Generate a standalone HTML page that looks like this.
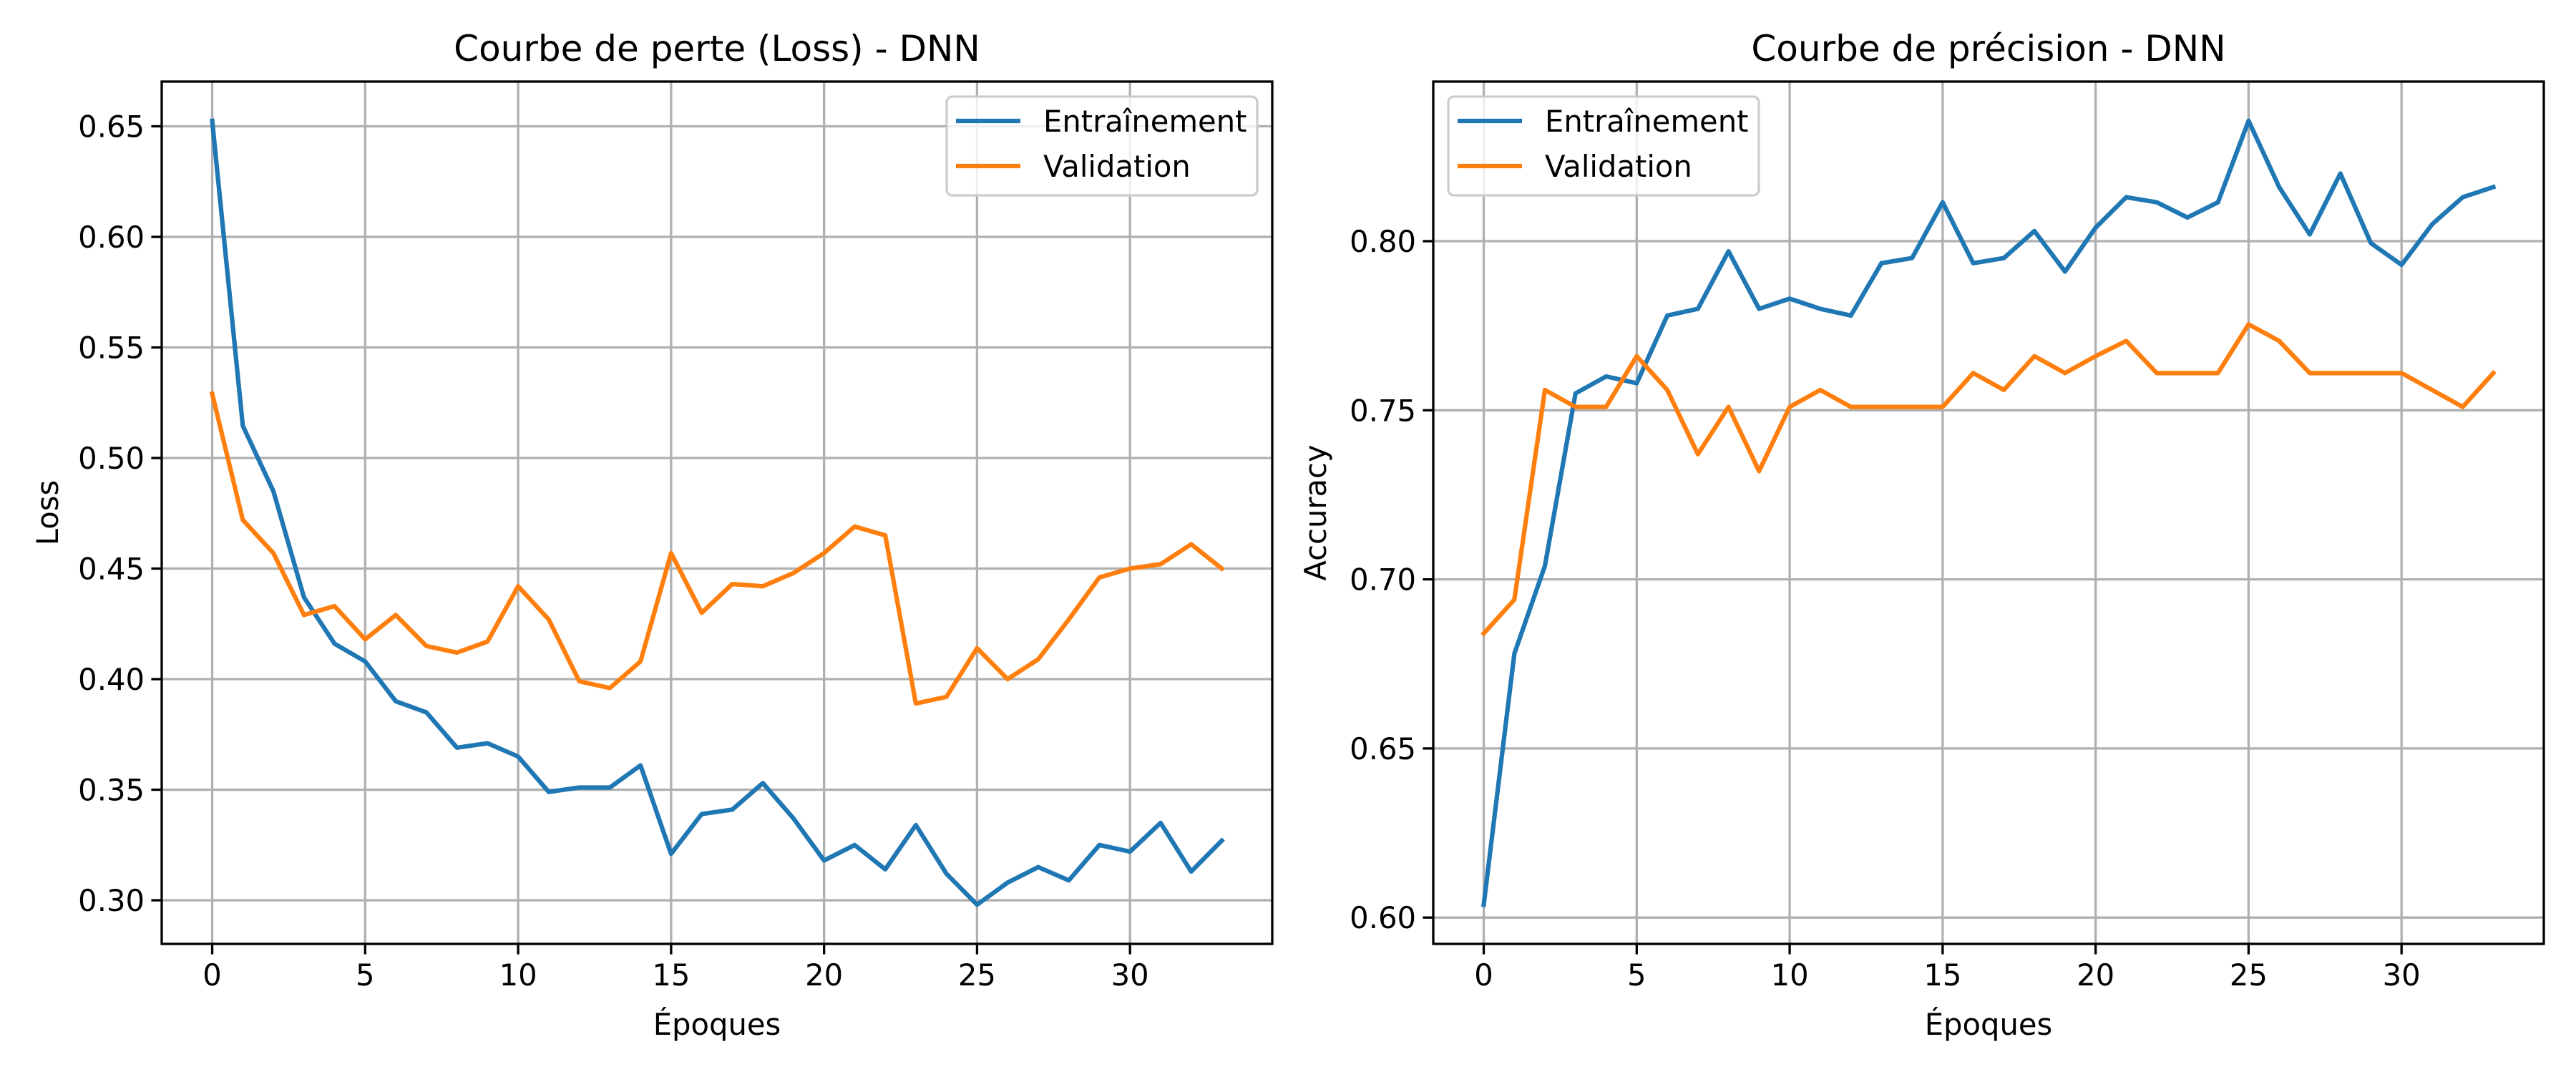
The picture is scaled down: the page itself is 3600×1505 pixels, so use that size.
<!DOCTYPE html>
<html><head><meta charset="utf-8"><style>
html,body{margin:0;padding:0;background:#fff;}
svg text{font-family:"DejaVu Sans","Liberation Sans",sans-serif;fill:#000;}
</style></head><body>
<svg id="fig" xmlns="http://www.w3.org/2000/svg" width="3600" height="1500" viewBox="0 0 3600 1500">
<rect width="3600" height="1500" fill="#fff"/>
</svg>
<script>
const epochs = [0,1,2,3,4,5,6,7,8,9,10,11,12,13,14,15,16,17,18,19,20,21,22,23,24,25,26,27,28,29,30,31,32,33];
const lossTrain = [0.6525,0.5146,0.485,0.437,0.416,0.408,0.390,0.385,0.369,0.371,0.365,0.349,0.351,0.351,0.361,0.321,0.339,0.341,0.353,0.337,0.318,0.325,0.314,0.334,0.312,0.298,0.308,0.315,0.309,0.325,0.322,0.335,0.313,0.327];
const lossVal = [0.529,0.472,0.457,0.429,0.433,0.418,0.429,0.415,0.412,0.417,0.442,0.427,0.399,0.396,0.408,0.457,0.430,0.443,0.442,0.448,0.457,0.469,0.465,0.389,0.392,0.414,0.400,0.409,0.427,0.446,0.450,0.452,0.461,0.450];
const accTrain = [0.6038,0.678,0.704,0.755,0.760,0.758,0.778,0.780,0.797,0.780,0.783,0.780,0.778,0.7935,0.795,0.8115,0.7935,0.795,0.803,0.791,0.804,0.813,0.8115,0.807,0.8115,0.8356,0.816,0.802,0.820,0.7994,0.793,0.805,0.813,0.816];
const accVal = [0.684,0.694,0.756,0.751,0.751,0.766,0.756,0.737,0.751,0.732,0.751,0.756,0.751,0.751,0.751,0.751,0.761,0.756,0.766,0.761,0.766,0.7705,0.761,0.761,0.761,0.7754,0.7705,0.761,0.761,0.761,0.761,0.756,0.751,0.761];
const xTicks = [0,5,10,15,20,25,30];
const lossTicks = [0.30,0.35,0.40,0.45,0.50,0.55,0.60,0.65];
const accTicks = [0.60,0.65,0.70,0.75,0.80];
const legendLabels = ["Entraînement","Validation"];

const NS="http://www.w3.org/2000/svg";
const svg=document.getElementById('fig');
function mk(tag,attrs,parent){const e=document.createElementNS(NS,tag);for(const k in attrs)e.setAttribute(k,attrs[k]);(parent||svg).appendChild(e);return e;}
function ext(arrs){let lo=Infinity,hi=-Infinity;arrs.forEach(a=>a.forEach(v=>{lo=Math.min(lo,v);hi=Math.max(hi,v);}));const m=(hi-lo)*0.05;return [lo-m,hi+m];}

function panel(cfg){
  const L=cfg.left,R=cfg.left+1552,T=114,B=1319;
  const [x0,x1]=ext([epochs]);const [y0,y1]=ext([cfg.train,cfg.val]);
  const sx=v=>L+(v-x0)/(x1-x0)*(R-L);
  const sy=v=>B-(v-y0)/(y1-y0)*(B-T);
  const g=mk('g',{});
  
  
  xTicks.forEach(t=>{
    const l=mk('line',{x1:sx(t),x2:sx(t),y1:T,y2:B,stroke:'#b0b0b0','stroke-width':3.3},g);
    
    
    mk('line',{x1:sx(t),x2:sx(t),y1:B,y2:B+14.6,stroke:'#000','stroke-width':3.3},g);
    const tx=mk('text',{x:sx(t),y:B+58,'font-size':41.7,'text-anchor':'middle'},g);
    tx.textContent=t;
    
    
  });
  cfg.ticks.forEach(t=>{
    if(t<y0||t>y1)return;
    const l=mk('line',{x1:L,x2:R,y1:sy(t),y2:sy(t),stroke:'#b0b0b0','stroke-width':3.3},g);
    
    
    mk('line',{x1:L-14.6,x2:L,y1:sy(t),y2:sy(t),stroke:'#000','stroke-width':3.3},g);
    const tx=mk('text',{x:L-24,y:sy(t)+15,'font-size':41.7,'text-anchor':'end'},g);
    tx.textContent=t.toFixed(2);
    
    
  });
  [[cfg.train,'#1f77b4','train-line'],[cfg.val,'#ff7f0e','validation-line']].forEach(([d,c,n])=>{
    const p=mk('polyline',{points:d.map((v,i)=>sx(epochs[i])+','+sy(v)).join(' '),fill:'none',stroke:c,'stroke-width':6.25,'stroke-linejoin':'round','stroke-linecap':'square'},g);
    
    
  });
  const fr=mk('rect',{x:L,y:T,width:R-L,height:B-T,fill:'none',stroke:'#000','stroke-width':3.3},g);
  
  
  const ti=mk('text',{x:(L+R)/2,y:85,'font-size':50,'text-anchor':'middle'},g);
  ti.textContent=cfg.title;
  
  
  const xl=mk('text',{x:(L+R)/2,y:1446,'font-size':41.7,'text-anchor':'middle'},g);
  xl.textContent='Époques';
  
  
  const yx=cfg.ylx, yy=(T+B)/2;
  const yl=mk('text',{x:yx,y:yy,'font-size':41.7,'text-anchor':'middle',transform:`rotate(-90 ${yx} ${yy})`},g);
  yl.textContent=cfg.ylabel;
  
  
  const lx=cfg.legendX;
  const lg=mk('g',{},g);
  
  
  mk('rect',{x:lx,y:135,width:434,height:138,rx:8,fill:'#fff','fill-opacity':0.8,stroke:'#cccccc','stroke-width':3.3},lg);
  ['#1f77b4','#ff7f0e'].forEach((c,i)=>{
    const yy2=169+i*63;
    mk('line',{x1:lx+13,x2:lx+103,y1:yy2,y2:yy2,stroke:c,'stroke-width':6.25},lg);
    const t=mk('text',{x:lx+135,y:yy2+15,'font-size':41.7},lg);
    t.textContent=legendLabels[i];
    
    
  });
}
panel({name:'loss-chart',left:226,train:lossTrain,val:lossVal,ticks:lossTicks,title:'Courbe de perte (Loss) - DNN',ylabel:'Loss',ylx:81,legendX:1323});
panel({name:'accuracy-chart',left:2003,train:accTrain,val:accVal,ticks:accTicks,title:'Courbe de précision - DNN',ylabel:'Accuracy',ylx:1853,legendX:2024});
</script>
</body></html>
